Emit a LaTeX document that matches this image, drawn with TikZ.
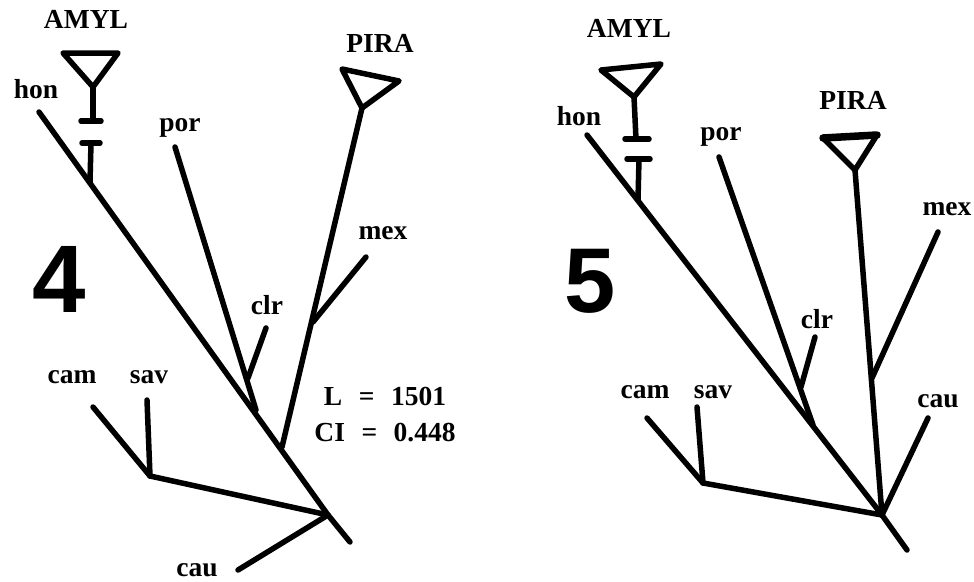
\documentclass[tikz,border=0pt]{standalone}
\usepackage{fontspec}
\setmainfont{Liberation Serif}
\newfontfamily\digitfont{Liberation Sans}
\tikzset{
  branch/.style={line width=5.5pt, line cap=round, line join=round},
  taxon/.style={anchor=base, inner sep=0pt, font=\fontsize{27.5}{30}\selectfont\bfseries},
  treeno/.style={anchor=base, inner sep=0pt, font=\fontsize{96}{100}\selectfont\digitfont\bfseries},
}
\begin{document}
\begin{tikzpicture}[x=1pt,y=-1pt]
\useasboundingbox (0,0) rectangle (974,581);

% ---------------- tree 4 ----------------
\coordinate (a-tl) at (63,53);
\coordinate (a-tr) at (118,53);
\coordinate (a-v)  at (93,87);
\coordinate (a-s1) at (93,121);
\coordinate (a-b1l) at (81,121);
\coordinate (a-b1r) at (101,121);
\coordinate (a-b2l) at (82,143);
\coordinate (a-b2r) at (100,143);
\coordinate (a-s2) at (91,143);
\coordinate (a-j)  at (90,182);
\coordinate (a-hon) at (39,112);
\coordinate (a-root) at (328,515);
\coordinate (a-end) at (350,542);
\coordinate (a-por) at (175,147);
\coordinate (a-porj) at (256,410);
\coordinate (a-clr) at (266,328);
\coordinate (a-clrj) at (248,378);
\coordinate (a-ptl) at (342,69);
\coordinate (a-ptr) at (399,81);
\coordinate (a-pv)  at (362,108);
\coordinate (a-pj)  at (282,447);
\coordinate (a-mex) at (366,257);
\coordinate (a-mexj) at (313,322);
\coordinate (a-cam) at (93,407);
\coordinate (a-sav) at (147,400);
\coordinate (a-cs)  at (150,476);
\coordinate (a-cau) at (238,570);

\draw[branch] (a-tl) -- (a-tr) -- (a-v) -- cycle;
\draw[branch] (a-v) -- (a-s1);
\draw[branch] (a-b1l) -- (a-b1r);
\draw[branch] (a-b2l) -- (a-b2r);
\draw[branch] (a-s2) -- (a-j);
\draw[branch] (a-hon) -- (a-root) -- (a-end);
\draw[branch] (a-por) -- (a-porj);
\draw[branch] (a-clr) -- (a-clrj);
\draw[branch] (a-ptl) -- (a-ptr) -- (a-pv) -- cycle;
\draw[branch] (a-pv) -- (a-pj);
\draw[branch] (a-mex) -- (a-mexj);
\draw[branch] (a-cam) -- (a-cs);
\draw[branch] (a-sav) -- (a-cs);
\draw[branch] (a-cs) -- (a-root);
\draw[branch] (a-cau) -- (a-root);

\node[taxon] (a-amyl-l) at (86,28) {AMYL};
\node[taxon] (a-hon-l) at (36,98) {hon};
\node[taxon] (a-por-l) at (180,131) {por};
\node[taxon] (a-pira-l) at (380,52) {PIRA};
\node[taxon] (a-mex-l) at (383,239) {mex};
\node[taxon] (a-clr-l) at (267,314) {clr};
\node[taxon] (a-cam-l) at (72,383) {cam};
\node[taxon] (a-sav-l) at (149,383) {sav};
\node[taxon] (a-cau-l) at (197,576) {cau};
\node[treeno] (a-num) at (59,312) {4};
\node[taxon, anchor=base, align=center] (a-stats) at (385,441)
  {L\hspace{0.6em}=\hspace{0.6em}1501\\[6pt]CI\hspace{0.6em}=\hspace{0.6em}0.448};

% ---------------- tree 5 ----------------
\coordinate (b-tl) at (601,70);
\coordinate (b-tr) at (661,64);
\coordinate (b-v)  at (634,97);
\coordinate (b-s1) at (636,139);
\coordinate (b-b1l) at (625,139);
\coordinate (b-b1r) at (649,139);
\coordinate (b-b2l) at (627,159);
\coordinate (b-b2r) at (650,159);
\coordinate (b-s2) at (639,159);
\coordinate (b-j)  at (638,200);
\coordinate (b-hon) at (587,135);
\coordinate (b-root) at (882,515);
\coordinate (b-end) at (907,550);
\coordinate (b-por) at (719,157);
\coordinate (b-porj) at (813,425);
\coordinate (b-clr) at (815,337);
\coordinate (b-clrj) at (801,387);
\coordinate (b-ptl) at (823,138);
\coordinate (b-ptr) at (877,135);
\coordinate (b-pv)  at (855,170);
\coordinate (b-mex) at (938,232);
\coordinate (b-mexj) at (872,378);
\coordinate (b-cau) at (928,418);
\coordinate (b-cam) at (647,418);
\coordinate (b-sav) at (697,407);
\coordinate (b-cs)  at (703,483);

\draw[branch] (b-tl) -- (b-tr) -- (b-v) -- cycle;
\draw[branch] (b-v) -- (b-s1);
\draw[branch] (b-b1l) -- (b-b1r);
\draw[branch] (b-b2l) -- (b-b2r);
\draw[branch] (b-s2) -- (b-j);
\draw[branch] (b-hon) -- (b-root) -- (b-end);
\draw[branch] (b-por) -- (b-porj);
\draw[branch] (b-clr) -- (b-clrj);
\draw[branch] (b-ptl) -- (b-ptr) -- (b-pv) -- cycle;
\draw[branch, line width=7.5pt] (b-ptl) -- (b-ptr);
\draw[branch] (b-pv) -- (b-root);
\draw[branch] (b-mex) -- (b-mexj);
\draw[branch] (b-cau) -- (b-root);
\draw[branch] (b-cam) -- (b-cs);
\draw[branch] (b-sav) -- (b-cs);
\draw[branch] (b-cs) -- (b-root);

\node[taxon] (b-amyl-l) at (629,37) {AMYL};
\node[taxon] (b-hon-l) at (579,125) {hon};
\node[taxon] (b-por-l) at (721,140) {por};
\node[taxon] (b-pira-l) at (853,109) {PIRA};
\node[taxon] (b-mex-l) at (947,215) {mex};
\node[taxon] (b-clr-l) at (817,328) {clr};
\node[taxon] (b-cau-l) at (938,407) {cau};
\node[taxon] (b-cam-l) at (645,398) {cam};
\node[taxon] (b-sav-l) at (713,398) {sav};
\node[treeno, font=\fontsize{92}{96}\selectfont\digitfont\bfseries] (b-num) at (590,312) {5};
\end{tikzpicture}
\end{document}
